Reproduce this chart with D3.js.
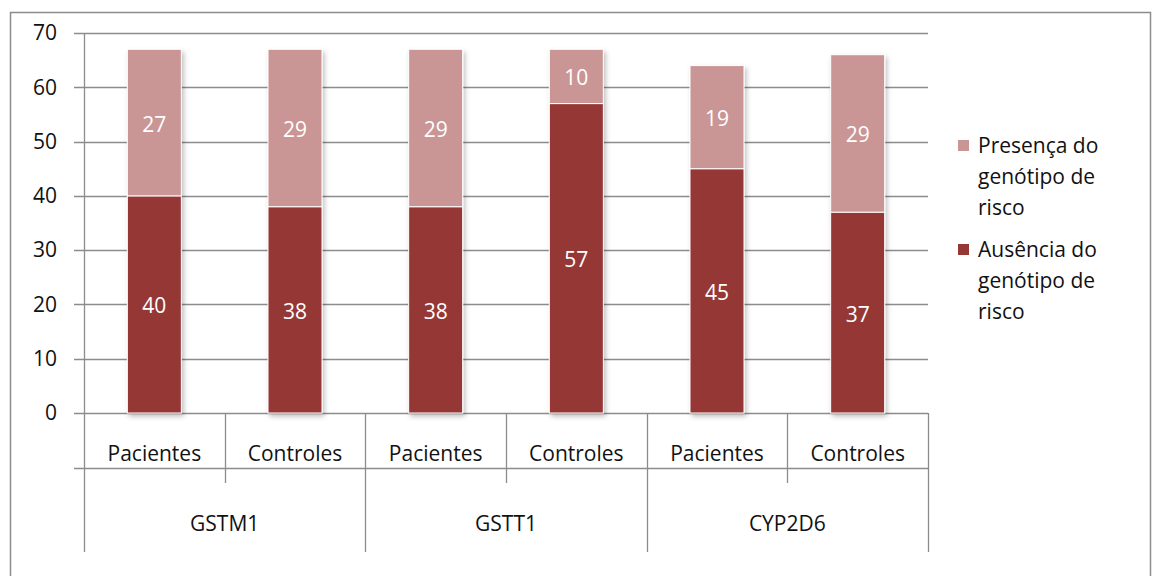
<!DOCTYPE html>
<html>
<head>
<meta charset="utf-8">
<script src="https://cdn.jsdelivr.net/npm/d3@7"></script>
<style>
  body { margin: 0; background: #fff; }
  svg { font-family: "Open Sans", sans-serif; }
</style>
</head>
<body>
<svg width="1152" height="576"></svg>
<script>
// data
var genes = ['GSTM1', 'GSTT1', 'CYP2D6'];
var groups = ['Pacientes', 'Controles'];
var ausencia = [40, 38, 38, 57, 45, 37];
var presenca = [27, 29, 29, 10, 19, 29];
var seriesNames = ['Presença do genótipo de risco', 'Ausência do genótipo de risco'];
var yTicks = [0, 10, 20, 30, 40, 50, 60, 70];

var colAus = '#953735', colPres = '#c99695', gridCol = '#8c8c8c', textCol = '#111';
var fs = 21;

var cats = [];
genes.forEach(function(g) {
  groups.forEach(function(s) { cats.push(g + '|' + s); });
});

var svg = d3.select('svg');

// outer chart border
svg.append('rect')
  .attr('x', 10.5).attr('y', 12.5)
  .attr('width', 1140).attr('height', 570)
  .attr('fill', 'none').attr('stroke', '#8c8c8c').attr('stroke-width', 1.5);

var defs = svg.append('defs');
var f = defs.append('filter').attr('id', 'shadow')
  .attr('x', '-20%').attr('y', '-10%').attr('width', '150%').attr('height', '130%');
f.append('feDropShadow').attr('dx', 2).attr('dy', 3).attr('stdDeviation', 2.5)
  .attr('flood-color', '#000').attr('flood-opacity', 0.25);

var plotL = 84, plotR = 928, plotT = 33, plotB = 413;

var x = d3.scaleBand().domain(cats).range([plotL, plotR]).paddingInner(0).paddingOuter(0);
var y = d3.scaleLinear().domain([0, 70]).range([plotB, plotT]);

// gridlines
svg.append('g').selectAll('line')
  .data(yTicks).enter().append('line')
  .attr('x1', plotL - 10).attr('x2', plotR)
  .attr('y1', function(d) { return Math.round(y(d)) + 0.5; })
  .attr('y2', function(d) { return Math.round(y(d)) + 0.5; })
  .attr('stroke', gridCol).attr('stroke-width', 1.3);

// y axis via d3
var yAxis = svg.append('g')
  .attr('transform', 'translate(' + (plotL - 10) + ',0)')
  .call(d3.axisLeft(y).tickValues(yTicks).tickSize(0).tickPadding(17));
yAxis.select('.domain').remove();
yAxis.selectAll('text').attr('font-size', fs).attr('fill', textCol)
  .style('font-family', '"Open Sans", sans-serif');

// axis line
svg.append('line')
  .attr('x1', plotL + 0.5).attr('x2', plotL + 0.5)
  .attr('y1', plotT).attr('y2', 552)
  .attr('stroke', gridCol).attr('stroke-width', 1.3);

// category box lines
var subLineY = 468;
svg.append('line')
  .attr('x1', plotL - 10).attr('x2', plotR)
  .attr('y1', subLineY + 0.5).attr('y2', subLineY + 0.5)
  .attr('stroke', gridCol).attr('stroke-width', 1.3);

cats.forEach(function(c, i) {
  var xr = x(c) + x.bandwidth();
  var isGroupEnd = (i % 2 === 1);
  svg.append('line')
    .attr('x1', Math.round(xr) + 0.5).attr('x2', Math.round(xr) + 0.5)
    .attr('y1', plotB).attr('y2', isGroupEnd ? 552 : 483)
    .attr('stroke', gridCol).attr('stroke-width', 1.3);
});

// sub labels
svg.append('g').selectAll('text')
  .data(cats).enter().append('text')
  .attr('x', function(d) { return x(d) + x.bandwidth() / 2; })
  .attr('y', 461)
  .attr('text-anchor', 'middle')
  .attr('font-size', fs).attr('fill', textCol)
  .text(function(d) { return d.split('|')[1]; });

// gene labels
svg.append('g').selectAll('text')
  .data(genes).enter().append('text')
  .attr('x', function(d) { return x(d + '|Pacientes') + x.bandwidth(); })
  .attr('y', 531)
  .attr('text-anchor', 'middle')
  .attr('font-size', fs).attr('fill', textCol)
  .text(function(d) { return d; });

// bars
var barW = 54;
var bars = svg.append('g');
cats.forEach(function(c, i) {
  var bx = x(c) + (x.bandwidth() - barW) / 2;
  var g = bars.append('g').attr('filter', 'url(#shadow)');
  g.append('rect')
    .attr('x', bx).attr('width', barW)
    .attr('y', y(ausencia[i])).attr('height', y(0) - y(ausencia[i]))
    .attr('fill', colAus).attr('stroke', '#fff').attr('stroke-width', 1);
  g.append('rect')
    .attr('x', bx).attr('width', barW)
    .attr('y', y(ausencia[i] + presenca[i])).attr('height', y(ausencia[i]) - y(ausencia[i] + presenca[i]))
    .attr('fill', colPres).attr('stroke', '#fff').attr('stroke-width', 1);
  bars.append('text')
    .attr('x', bx + barW / 2).attr('y', (y(0) + y(ausencia[i])) / 2 + 9)
    .attr('text-anchor', 'middle').attr('font-size', fs).attr('fill', '#fff')
    .text(ausencia[i]);
  bars.append('text')
    .attr('x', bx + barW / 2).attr('y', (y(ausencia[i]) + y(ausencia[i] + presenca[i])) / 2 + 9)
    .attr('text-anchor', 'middle').attr('font-size', fs).attr('fill', '#fff')
    .text(presenca[i]);
});

// legend
var legend = svg.append('g');
var legendCols = [colPres, colAus];
var legendWrap = [['Presença do', 'genótipo de', 'risco'], ['Ausência do', 'genótipo de', 'risco']];
[146, 250].forEach(function(ly, k) {
  legend.append('rect')
    .attr('x', 958).attr('y', ly - 6).attr('width', 11).attr('height', 11)
    .attr('fill', legendCols[k]);
  var t = legend.append('text').attr('x', 978).attr('y', ly)
    .attr('font-size', fs).attr('fill', textCol);
  legendWrap[k].forEach(function(line, j) {
    t.append('tspan').attr('x', 978).attr('y', ly + 7 + j * 31).text(line);
  });
});
</script>
</body>
</html>
